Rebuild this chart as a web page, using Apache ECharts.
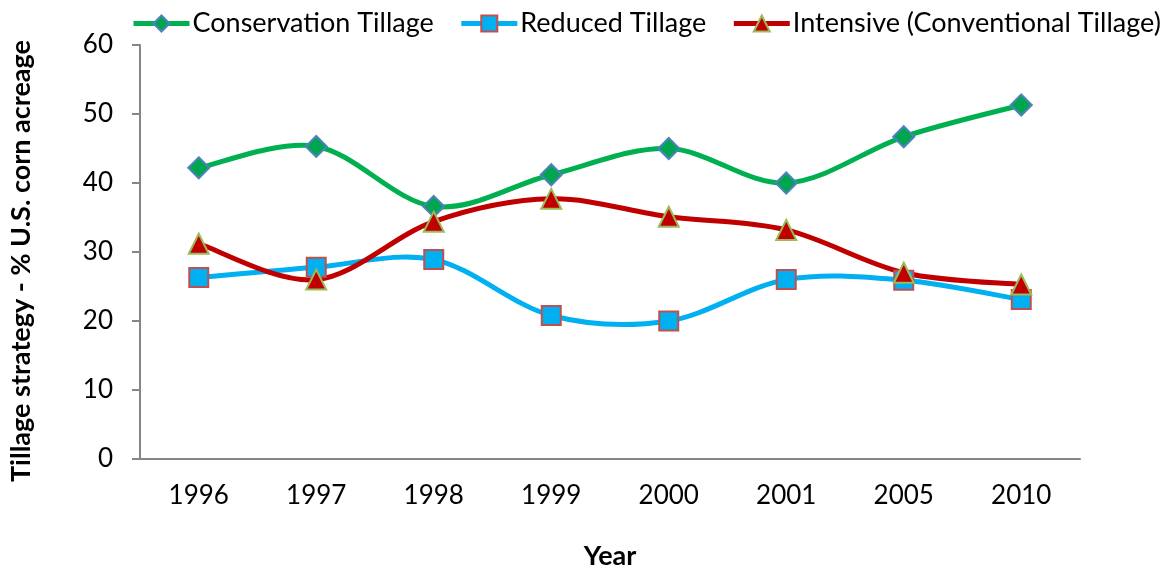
<!DOCTYPE html>
<html><head><meta charset="utf-8">
<script src="https://cdn.jsdelivr.net/npm/echarts@6/dist/echarts.min.js"></script>
<style>html,body{margin:0;padding:0;background:#fff}#c{width:1167px;height:575px}</style>
</head><body><div id="c"></div>
<script>
var years = ['1996','1997','1998','1999','2000','2001','2005','2010'];
var conservation = [42.2, 45.3, 36.6, 41.2, 45.0, 40.0, 46.7, 51.3];
var reduced = [26.3, 27.8, 28.9, 20.8, 20.0, 26.0, 25.9, 23.1];
var intensive = [31.2, 26.0, 34.4, 37.7, 35.1, 33.2, 27.0, 25.3];
var yTicks = [0, 10, 20, 30, 40, 50, 60];

var font = 'Lato, "Open Sans", sans-serif';
var chart = echarts.init(document.getElementById('c'));

// Smooth curve (Catmull-Rom style, like spreadsheet smoothing) through the data points,
// positioned by the chart's own axes via api.coord.
function curve(values, color) {
  return {
    type: 'custom', name: '_' + color, data: [[0, values[0]]], z: 2, silent: true,
    renderItem: function (params, api) {
      var p = values.map(function (v, i) { return api.coord([i, v]); });
      var d = 'M' + p[0][0] + ',' + p[0][1];
      for (var i = 0; i < p.length - 1; i++) {
        var p0 = p[i - 1] || p[i], p1 = p[i], p2 = p[i + 1], p3 = p[i + 2] || p[i + 1];
        var c1x = p1[0] + (p2[0] - p0[0]) / 6, c1y = p1[1] + (p2[1] - p0[1]) / 6;
        var c2x = p2[0] - (p3[0] - p1[0]) / 6, c2y = p2[1] - (p3[1] - p1[1]) / 6;
        d += 'C' + c1x + ',' + c1y + ' ' + c2x + ',' + c2y + ' ' + p2[0] + ',' + p2[1];
      }
      return {type: 'path', shape: {pathData: d},
        style: {fill: 'none', stroke: color, lineWidth: 5, lineCap: 'round', lineJoin: 'round'}};
    }
  };
}
function marks(name, data, color, symbol, fill, border, size) {
  return {
    name: name, type: 'line', data: data, z: 3,
    symbol: symbol, symbolSize: size, showAllSymbol: true,
    lineStyle: {color: color, width: 5, opacity: 0},
    itemStyle: {color: fill, borderColor: border, borderWidth: 2},
    emphasis: {disabled: true}
  };
}
chart.setOption({
  animation: false,
  textStyle: {fontFamily: font},
  legend: {
    top: 10, left: 131, width: 1036, padding: 0, itemGap: 25, itemWidth: 56, itemHeight: 20,
    lineStyle: {width: 5, opacity: 1},
    textStyle: {fontSize: 27, color: '#000', fontFamily: font, padding: [0, 0, 0, -2]},
    data: ['Conservation Tillage', 'Reduced Tillage', 'Intensive (Conventional Tillage)']
  },
  grid: {left: 138, right: 87, top: 45, bottom: 115},
  xAxis: {
    type: 'category', data: years, boundaryGap: true,
    name: 'Year', nameLocation: 'middle', nameGap: 84,
    nameTextStyle: {fontSize: 27, fontWeight: 'bold', color: '#000', fontFamily: font},
    axisLine: {lineStyle: {color: '#868686', width: 2}},
    axisTick: {alignWithLabel: true, length: 7, lineStyle: {color: '#868686', width: 2}},
    axisLabel: {fontSize: 26, color: '#000', margin: 24, fontFamily: font}
  },
  yAxis: {
    type: 'value', min: yTicks[0], max: yTicks[yTicks.length - 1], interval: 10,
    name: 'Tillage strategy - % U.S. corn acreage', nameLocation: 'middle', nameGap: 105,
    nameTextStyle: {fontSize: 27, fontWeight: 'bold', color: '#000', fontFamily: font, padding: [0, 18, 0, 0]},
    axisLine: {show: true, lineStyle: {color: '#868686', width: 2}},
    axisTick: {show: true, length: 8, lineStyle: {color: '#868686', width: 2}},
    splitLine: {show: false},
    axisLabel: {fontSize: 26, color: '#000', margin: 27, fontFamily: font}
  },
  series: [
    curve(conservation, '#00B050'),
    marks('Conservation Tillage', conservation, '#00B050', 'diamond', '#00A550', '#4F81BD', 21),
    curve(reduced, '#00B0F0'),
    marks('Reduced Tillage', reduced, '#00B0F0', 'rect', '#00B0F0', '#C0504D', 19),
    curve(intensive, '#C00000'),
    marks('Intensive (Conventional Tillage)', intensive, '#C00000', 'triangle', '#C00000', '#9BBB59', 20)
  ]
});
</script></body></html>
